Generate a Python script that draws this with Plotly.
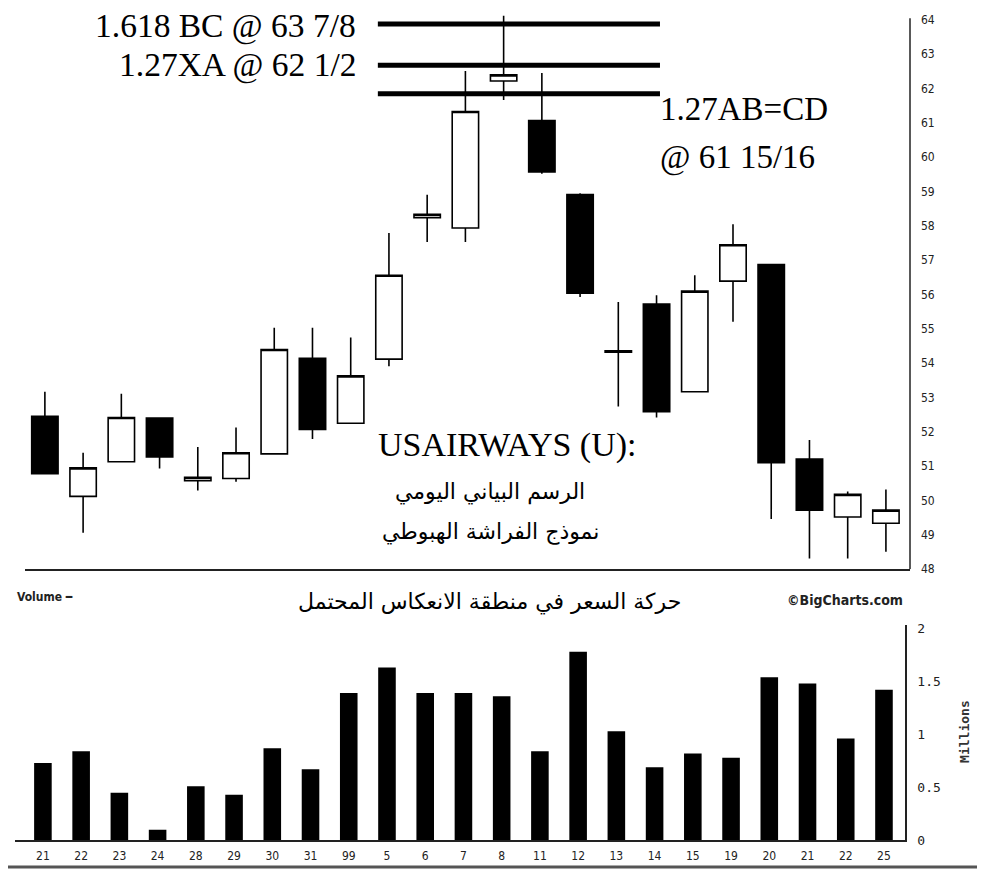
import plotly.graph_objects as go

# ---------------- data ----------------
date_labels = ["21", "22", "23", "24", "28", "29", "30", "31", "99", "5", "6", "7",
               "8", "11", "12", "13", "14", "15", "19", "20", "21", "22", "25"]
open_prices = [52.45, 50.12, 51.13, 52.40, 50.58, 50.64, 51.36, 54.14, 52.25, 54.12, 58.24, 57.94,
               62.22, 61.07, 58.91, 54.32, 55.72, 53.17, 56.39, 56.87, 51.21, 49.52, 49.34]
high_prices = [53.17, 51.39, 53.11, 52.40, 51.56, 52.13, 55.03, 55.03, 54.75, 57.79, 58.91, 62.51,
               64.12, 62.45, 58.95, 55.78, 55.98, 56.56, 58.05, 56.90, 51.76, 50.26, 50.32]
low_prices = [50.78, 49.06, 51.13, 50.93, 50.29, 50.55, 51.36, 51.79, 52.25, 53.91, 57.53, 57.53,
              61.67, 59.52, 55.93, 52.74, 52.42, 53.17, 55.21, 49.46, 48.31, 48.31, 48.51]
close_prices = [50.78, 50.95, 52.42, 51.27, 50.68, 51.39, 54.40, 52.07, 53.63, 56.56, 58.34, 61.33,
                62.40, 59.57, 56.04, 54.36, 52.59, 56.10, 57.45, 51.10, 49.72, 50.18, 49.72]
volume_millions = [0.73, 0.84, 0.45, 0.10, 0.51, 0.43, 0.87, 0.67, 1.39, 1.63, 1.39, 1.39,
                   1.36, 0.84, 1.78, 1.03, 0.69, 0.82, 0.78, 1.54, 1.48, 0.96, 1.42]

price_ticks = list(range(48, 65))
volume_ticks = [0, 0.5, 1, 1.5, 2]
volume_tick_text = ["0", "0.5", "1", "1.5", "2"]

# Fibonacci / target levels (as drawn on the chart)
level_values = [63.88, 62.68, 61.85]

# The page body has an 8px margin; size the figure so the page fits the window exactly
PAGE_MARGIN = 8
W, H = 985 - 2 * PAGE_MARGIN, 884 - 2 * PAGE_MARGIN
idx = list(range(len(date_labels)))


def px(x):
    """window pixel x -> paper coordinate"""
    return (x - PAGE_MARGIN) / W


def py(y):
    """window pixel y -> paper coordinate"""
    return 1 - (y - PAGE_MARGIN) / H


cond = "DejaVu Sans Condensed, Liberation Sans Narrow, Arial Narrow, sans-serif"
mono = "DejaVu Sans Mono, Liberation Mono, monospace"
serif = "Liberation Serif, Times New Roman, serif"
arabic = "DejaVu Sans, Noto Sans, sans-serif"

fig = go.Figure()

fig.add_trace(go.Candlestick(
    x=idx, open=open_prices, high=high_prices, low=low_prices, close=close_prices,
    increasing=dict(line=dict(color="black", width=1.6), fillcolor="white"),
    decreasing=dict(line=dict(color="black", width=1.6), fillcolor="black"),
    whiskerwidth=0, showlegend=False, xaxis="x", yaxis="y",
))

fig.add_trace(go.Bar(
    x=idx, y=volume_millions, marker=dict(color="black", line=dict(width=0)),
    width=0.46, showlegend=False, xaxis="x2", yaxis="y2",
))

fig.update_layout(
    xaxis=dict(domain=[px(25), px(910)], range=[-0.52, 22.63], showgrid=False, zeroline=False,
               showline=True, linecolor="#222", linewidth=2, showticklabels=False, ticks="",
               rangeslider=dict(visible=False), fixedrange=True),
    yaxis=dict(domain=[py(573), 1], range=[48, 64.23], side="right", showgrid=False,
               zeroline=False, showline=False, tickvals=price_ticks,
               ticktext=[str(v) for v in price_ticks],
               tickfont=dict(family=cond, size=12, color="#222"), ticks="",
               ticklabelstandoff=10, anchor="x"),
    xaxis2=dict(domain=[px(15), px(905)], range=[-0.73, 22.55], showgrid=False, zeroline=False,
                showline=True, linecolor="#222", linewidth=2, tickvals=idx, ticktext=date_labels,
                tickfont=dict(family=cond, size=12, color="#222"), ticks="", anchor="y2",
                ticklabelstandoff=3),
    yaxis2=dict(domain=[py(848), py(629.8)], range=[0, 2.03], side="right", showgrid=False,
                zeroline=False, showline=True, linecolor="#222", linewidth=1.5,
                tickvals=volume_ticks, ticktext=volume_tick_text,
                tickfont=dict(family=mono, size=13, color="#222"), ticks="",
                ticklabelstandoff=8, anchor="x2"),
    width=W, height=H, margin=dict(l=0, r=0, t=0, b=0),
    paper_bgcolor="white", plot_bgcolor="white", boxgap=0.31, boxgroupgap=0,
)

shapes = []
# right price axis line
shapes.append(dict(type="line", xref="paper", yref="y", x0=px(910), x1=px(910), y0=48, y1=64.05,
                   line=dict(color="#222", width=1.5)))
# level lines
for lv in level_values:
    shapes.append(dict(type="line", xref="x", yref="y", x0=8.71, x1=16.09, y0=lv, y1=lv,
                       line=dict(color="black", width=5)))
# bottom page rule
shapes.append(dict(type="line", xref="paper", yref="paper", x0=0, x1=1, y0=py(875), y1=py(875),
                   line=dict(color="#555", width=3)))
fig.update_layout(shapes=shapes)

ann = []
ann.append(dict(text="1.618 BC @ 63 7/8", x=px(358), y=py(22), xanchor="right", yanchor="middle",
                font=dict(family=serif, size=33.5, color="black")))
ann.append(dict(text="1.27XA @ 62 1/2", x=px(358), y=py(62), xanchor="right", yanchor="middle",
                font=dict(family=serif, size=33.5, color="black")))
ann.append(dict(text="1.27AB=CD", x=px(658), y=py(106), xanchor="left", yanchor="middle",
                font=dict(family=serif, size=33, color="black")))
ann.append(dict(text="@ 61 15/16", x=px(658), y=py(156), xanchor="left", yanchor="middle",
                font=dict(family=serif, size=33, color="black")))
ann.append(dict(text="USAIRWAYS (U):", x=px(376), y=py(447), xanchor="left", yanchor="middle",
                font=dict(family=serif, size=34, color="black")))
ann.append(dict(text="الرسم البياني اليومي", x=px(490), y=py(495), xanchor="center", yanchor="middle",
                font=dict(family=arabic, size=22, color="black")))
ann.append(dict(text="نموذج الفراشة الهبوطي", x=px(490), y=py(535), xanchor="center", yanchor="middle",
                font=dict(family=arabic, size=22, color="black")))
ann.append(dict(text="حركة السعر في منطقة الانعكاس المحتمل", x=px(489), y=py(606), xanchor="center",
                yanchor="middle", font=dict(family=arabic, size=22, color="black")))
ann.append(dict(text="<b>Volume ━</b>", x=px(15), y=py(601), xanchor="left", yanchor="middle",
                font=dict(family=cond, size=12, color="#222")))
ann.append(dict(text="<b>©BigCharts.com</b>", x=px(905), y=py(604), xanchor="right", yanchor="middle",
                font=dict(family=cond, size=14, color="#222")))
ann.append(dict(text="<b>Millions</b>", x=px(965), y=py(738), xanchor="center", yanchor="middle",
                textangle=-90, font=dict(family=mono, size=13, color="#333")))
for a in ann:
    a.update(xref="paper", yref="paper", showarrow=False)
fig.update_layout(annotations=ann)

fig.write_html("out.html")
